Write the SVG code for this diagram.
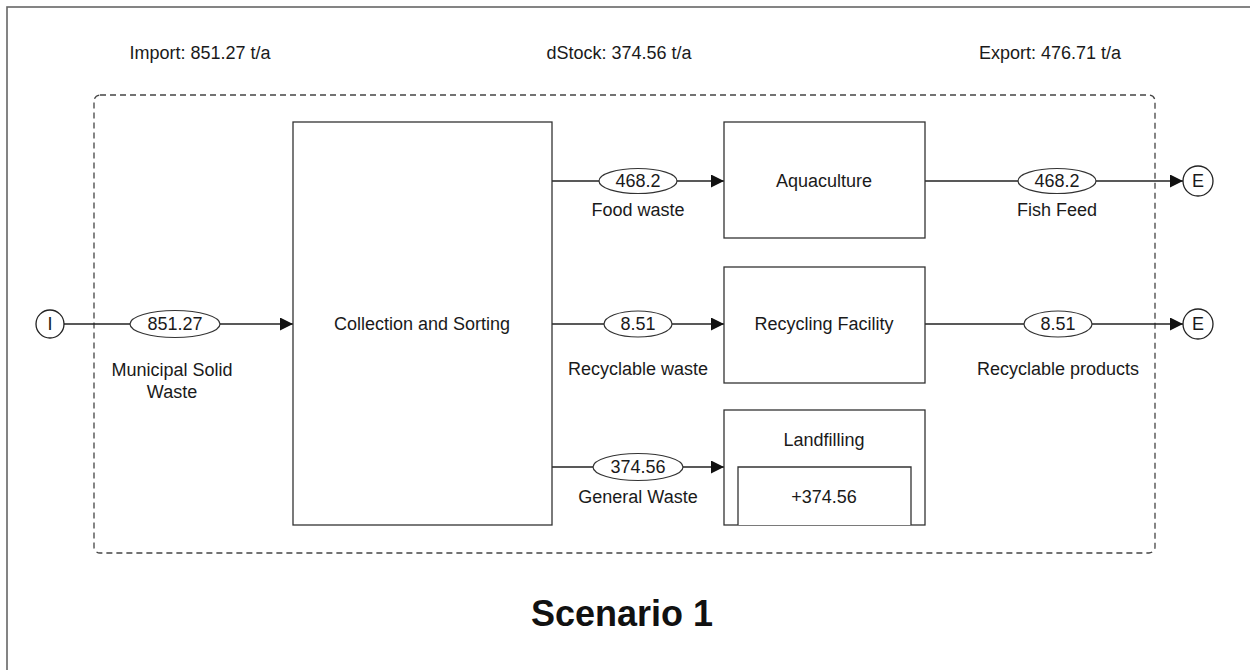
<svg xmlns="http://www.w3.org/2000/svg" width="1250" height="670" viewBox="0 0 1250 670">
  <style>
    text { font-family: "Liberation Sans", Arial, sans-serif; font-size: 18px; fill: #1a1a1a; text-anchor: middle; }
    .title { font-size: 36px; font-weight: bold; fill: #111; }
    .box { fill: #fff; stroke: #333; stroke-width: 1.3; }
    .flow { fill: none; stroke: #222; stroke-width: 1.3; }
    .val { fill: #fff; stroke: #333; stroke-width: 1.2; }
    .term { fill: #fff; stroke: #222; stroke-width: 1.3; }
  </style>
  <defs>
    <marker id="arrow" viewBox="0 0 10 10" refX="10" refY="5" markerWidth="13" markerHeight="13" markerUnits="userSpaceOnUse" orient="auto">
      <path d="M0,0 L10,5 L0,10 Z" fill="#111"/>
    </marker>
  </defs>

  <rect width="1250" height="670" fill="#fff"/>
  <!-- outer frame (only left and top edges fall inside the page) -->
  <rect x="7" y="7" width="1260" height="680" fill="none" stroke="#666" stroke-width="1.6"/>

  <!-- system summary -->
  <text x="200" y="59">Import: 851.27 t/a</text>
  <text x="619" y="59">dStock: 374.56 t/a</text>
  <text x="1050" y="59">Export: 476.71 t/a</text>

  <!-- system boundary -->
  <rect x="94" y="95" width="1061" height="458" rx="6" ry="6" fill="none" stroke="#444" stroke-width="1.3" stroke-dasharray="6,4"/>

  <!-- connectors -->
  <g id="connectors">
    <line class="flow" x1="64" y1="324" x2="293" y2="324" marker-end="url(#arrow)"/>
    <line class="flow" x1="552" y1="181" x2="724" y2="181" marker-end="url(#arrow)"/>
    <line class="flow" x1="552" y1="324" x2="724" y2="324" marker-end="url(#arrow)"/>
    <line class="flow" x1="552" y1="467" x2="724" y2="467" marker-end="url(#arrow)"/>
    <line class="flow" x1="925" y1="181" x2="1183" y2="181" marker-end="url(#arrow)"/>
    <line class="flow" x1="925" y1="324" x2="1183" y2="324" marker-end="url(#arrow)"/>

    <g id="flow-msw">
      <ellipse class="val" cx="175" cy="324" rx="45" ry="13.5"/>
      <text x="175" y="330">851.27</text>
      <text x="172" y="376">Municipal Solid</text>
      <text x="172" y="398">Waste</text>
    </g>
    <g id="flow-food">
      <ellipse class="val" cx="638" cy="181" rx="39" ry="12.5"/>
      <text x="638" y="187">468.2</text>
      <text x="638" y="216">Food waste</text>
    </g>
    <g id="flow-recyclable">
      <ellipse class="val" cx="638" cy="324" rx="34" ry="13"/>
      <text x="638" y="330">8.51</text>
      <text x="638" y="375">Recyclable waste</text>
    </g>
    <g id="flow-general">
      <ellipse class="val" cx="638" cy="467" rx="45" ry="13.5"/>
      <text x="638" y="473">374.56</text>
      <text x="638" y="503">General Waste</text>
    </g>
    <g id="flow-fishfeed">
      <ellipse class="val" cx="1057" cy="181" rx="39" ry="12.5"/>
      <text x="1057" y="187">468.2</text>
      <text x="1057" y="216">Fish Feed</text>
    </g>
    <g id="flow-products">
      <ellipse class="val" cx="1058" cy="324" rx="34" ry="13"/>
      <text x="1058" y="330">8.51</text>
      <text x="1058" y="375">Recyclable products</text>
    </g>
  </g>

  <!-- import terminal -->
  <g id="import">
    <circle class="term" cx="50" cy="324" r="14"/>
    <text x="50" y="330">I</text>
  </g>

  <!-- processes -->
  <g id="collection">
    <rect class="box" x="293" y="122" width="259" height="403"/>
    <text x="422" y="330">Collection and Sorting</text>
  </g>
  <g id="aquaculture">
    <rect class="box" x="724" y="122" width="201" height="116"/>
    <text x="824" y="187">Aquaculture</text>
  </g>
  <g id="recycling">
    <rect class="box" x="724" y="267" width="201" height="116"/>
    <text x="824" y="330">Recycling Facility</text>
  </g>
  <g id="landfilling">
    <rect class="box" x="724" y="410" width="201" height="115"/>
    <text x="824" y="446">Landfilling</text>
    <path class="box" d="M738,525 V467 H911 V525"/>
    <text x="824" y="503">+374.56</text>
  </g>

  <!-- export terminals -->
  <g id="export-1">
    <circle class="term" cx="1198" cy="181" r="15"/>
    <text x="1198" y="187">E</text>
  </g>
  <g id="export-2">
    <circle class="term" cx="1198" cy="324" r="15"/>
    <text x="1198" y="330">E</text>
  </g>

  <text class="title" x="622" y="626">Scenario 1</text>
</svg>
